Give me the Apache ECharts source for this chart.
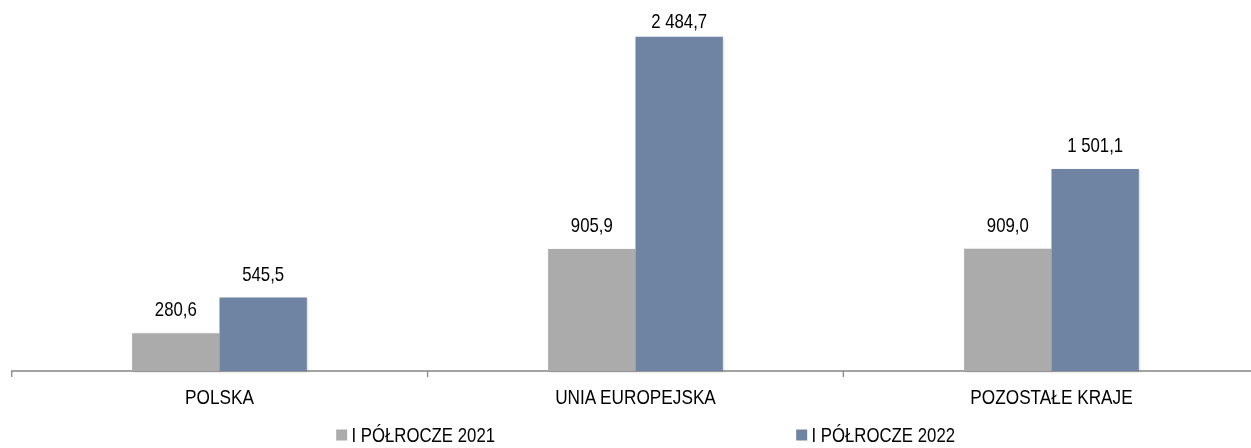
<!DOCTYPE html>
<html>
<head>
<meta charset="utf-8">
<script src="https://cdn.jsdelivr.net/npm/echarts@6/dist/echarts.min.js"></script>
<style>
html,body{margin:0;padding:0;background:#fff;overflow:hidden;width:1251px;height:448px;}
#chart{width:1503px;height:448px;transform:scaleX(0.84);transform-origin:0 0;}
</style>
</head>
<body>
<div id="chart"></div>
<script>
var categories = ['POLSKA', 'UNIA EUROPEJSKA', 'POZOSTAŁE KRAJE'];
var seriesNames = ['I PÓŁROCZE 2021', 'I PÓŁROCZE 2022'];
var values2021 = [280.6, 905.9, 909.0];
var values2022 = [545.5, 2484.7, 1501.1];

function fmt(v) {
  var parts = v.toFixed(1).split('.');
  var intPart = parts[0].replace(/\B(?=(\d{3})+(?!\d))/g, ' ');
  return intPart + ',' + parts[1];
}

// Horizontal condensing factor applied to the whole chart (reference text is condensed)
var S = 0.84;
var FONT = '"Liberation Sans", Arial, sans-serif';
var max = Math.max.apply(null, values2022.concat(values2021));

function toData(arr) {
  return arr.map(function (v) {
    // the tallest bar's label sits closer to the bar (pushed down to fit in the plot)
    return v === max ? {value: v, label: {distance: 6}} : v;
  });
}

var chart = echarts.init(document.getElementById('chart'), null, {renderer: 'svg'});
chart.setOption({
  animation: false,
  backgroundColor: '#ffffff',
  textStyle: {fontFamily: FONT},
  grid: {left: 11.5 / S, top: 36.7, width: 1248 / S, height: 334.3, containLabel: false},
  legend: {
    left: 332 / S, top: 420,
    itemWidth: 11 / S, itemHeight: 11, itemGap: 301 / S,
    icon: 'rect',
    textStyle: {fontFamily: FONT, fontSize: 20, color: '#000', lineHeight: 20},
    itemStyle: {borderWidth: 0},
    data: seriesNames
  },
  xAxis: {
    type: 'category',
    data: categories,
    axisLine: {lineStyle: {color: '#858585', width: 1.5}},
    axisTick: {show: true, length: 6, lineStyle: {color: '#858585', width: 1.5}},
    axisLabel: {fontFamily: FONT, fontSize: 20.5, color: '#000', margin: 15}
  },
  yAxis: {
    type: 'value', min: 0, max: 2484.7, show: false,
    splitLine: {show: false}
  },
  series: [
    {
      name: seriesNames[0], type: 'bar', data: toData(values2021),
      barWidth: '21%', barGap: '0%',
      itemStyle: {color: '#ABABAB', shadowColor: 'rgba(0,0,0,0.15)', shadowBlur: 3, shadowOffsetX: 1, shadowOffsetY: 1},
      label: {show: true, position: 'top', distance: 14, fontFamily: FONT, fontSize: 20, color: '#000',
        formatter: function(p){ return fmt(p.value); }}
    },
    {
      name: seriesNames[1], type: 'bar', data: toData(values2022),
      barWidth: '21%', barGap: '0%',
      itemStyle: {color: '#6E84A2', shadowColor: 'rgba(0,0,0,0.15)', shadowBlur: 3, shadowOffsetX: 1, shadowOffsetY: 1},
      label: {show: true, position: 'top', distance: 14, fontFamily: FONT, fontSize: 20, color: '#000',
        formatter: function(p){ return fmt(p.value); }}
    }
  ]
});
</script>
</body>
</html>
